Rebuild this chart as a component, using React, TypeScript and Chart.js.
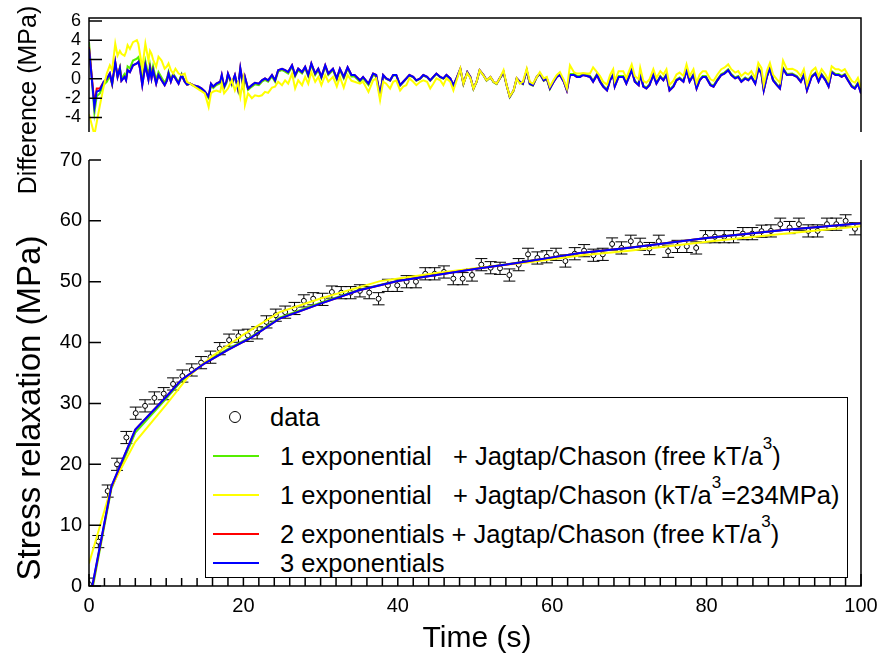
import React, { useEffect, useRef } from 'react';
import { Chart, registerables } from 'chart.js';

Chart.register(...registerables);

const FONT = "'Liberation Sans', Arial, Helvetica, sans-serif";

// ---------- tick labels ----------
const diffTicks = [-4, -2, 0, 2, 4, 6];
const stressTicks = [0, 10, 20, 30, 40, 50, 60, 70];
const timeTicks = [0, 20, 40, 60, 80, 100];

// ---------- difference panel (MPa) ----------
const diffTime = [
  0, 0.7, 1.0, 1.4, 1.9, 2.3, 2.7, 3.0, 3.4, 3.7, 4.0, 4.2, 4.6, 4.8, 5.0, 5.3, 5.7, 6.2, 6.4, 6.6,
  6.9, 7.3, 7.7, 7.9, 8.1, 8.3, 8.7, 9.0, 9.4, 9.8, 10.1, 10.3, 10.6, 10.9, 11.2, 11.6, 12.0, 12.4, 12.7, 13.1,
  13.5, 14.2, 14.6, 15.0, 15.5, 15.8, 16.1, 16.5, 17.0, 17.2, 17.5, 17.8, 18.0, 18.5, 18.9, 19.3, 19.6, 20.0, 20.2, 20.6,
  21.1, 21.5, 22.0, 22.4, 22.8, 23.2, 23.7, 24.1, 24.5, 25.0, 25.4, 25.8, 26.3, 26.7, 27.1, 27.6, 28.0, 28.4, 28.8, 29.3,
  29.7, 30.1, 30.6, 31.0, 31.6, 32.1, 32.5, 33.0, 33.5, 34.0, 34.4, 35.1, 35.5, 36.2, 36.8, 37.2, 37.7, 38.1, 38.5, 39.0,
  39.4, 39.8, 40.3, 40.7, 41.1, 41.5, 42.0, 42.4, 42.9, 43.3, 43.8, 44.2, 44.6, 45.0, 45.5, 45.9, 46.3, 46.8, 47.2, 47.6,
  48.1, 48.5, 49.0, 49.4, 49.8, 50.2, 50.6, 51.1, 51.5, 52.0, 52.4, 52.8, 53.2, 53.7, 54.1, 54.5, 55.0, 55.4, 55.8, 56.2,
  56.7, 57.1, 57.5, 58.0, 58.4, 58.9, 59.3, 59.7, 60.2, 60.6, 61.0, 61.5, 61.9, 62.3, 62.8, 63.2, 63.6, 64.0, 64.5, 64.9,
  65.3, 65.8, 66.2, 66.6, 67.1, 67.5, 67.9, 68.1, 68.6, 69.2, 69.6, 70.3, 70.7, 71.2, 71.4, 71.8, 72.2, 72.6, 73.1, 73.5,
  74.0, 74.4, 74.8, 75.2, 75.7, 76.1, 76.5, 77.0, 77.4, 77.8, 78.3, 78.7, 79.1, 79.5, 79.9, 80.5, 80.9, 81.4, 81.9, 82.3,
  82.8, 83.2, 83.7, 84.1, 84.5, 85.0, 85.4, 85.8, 86.3, 86.7, 87.1, 87.4, 87.8, 88.2, 88.6, 89.1, 89.5, 89.9, 90.4, 91.1,
  91.7, 92.2, 92.6, 93.0, 93.6, 94.1, 94.5, 94.9, 95.4, 95.8, 96.2, 96.7, 97.1, 97.5, 97.9, 98.3, 98.8, 99.2, 99.6, 100,
];

const diffBlue = [
  3.1, -2.9, -1.3, -1.2, -0.3, 0, 0.55, -0.5, 1.75, 0.2, 1.1, -0.2, 0.2, -0.15, 0.9, 0.7, 1.4, 1.6, 1.75, 1.1,
  -0.65, 1.4, -0.1, 1.05, 0.05, 0.9, -0.5, 0.4, -0.15, -0.65, -0.15, 0.55, -0.3, 0.4, 0.05, -0.5, 0.4, -0.3, -0.6, -0.5,
  -0.65, -0.8, -1.0, -1.3, -1.85, -0.5, -0.8, -0.5, -0.3, 0.4, -0.8, -0.3, 0.55, -0.5, 0.4, -1.0, 1.1, -0.8, 0.2, -1.0,
  -0.65, -0.4, -0.5, -0.15, 0.05, -0.15, 0.4, -0.15, 0.9, 1.05, 0.9, 0.7, 1.4, 0.4, 1.05, 0.7, 1.25, 0.4, 1.6, 0.55,
  1.05, 0.2, 1.4, 0.55, 1.05, 0.05, 1.05, 0.2, 1.2, 0.4, 0.4, -0.15, 0.2, -0.5, 0.55, 0.4, -1.7, 0.4, 0.05, -0.15,
  0.4, 0.4, -0.65, -0.3, 0.05, 0.4, 0.2, -0.15, 0.05, 0.4, 0.2, -0.15, 0.2, 0.55, 0.2, 0.05, 0.4, 0.05, -0.65, 0.05,
  1.05, -0.5, 0.7, 0.2, -1.0, -0.3, 0.9, 0.4, -0.15, 0.2, -0.3, -0.5, 0.05, 0.7, -0.65, -1.85, -1.2, 0.05, -0.3, -0.5,
  0.9, -0.5, -0.65, 0.2, 0.55, -0.15, 0.05, -1.0, -0.3, 0.2, 0.4, -0.3, -1.2, 0.4, 0.4, 0.2, 0.2, 0.4, 0.3, 0.2,
  -0.3, 0.4, -0.3, -0.8, -1.2, -0.15, 0.4, -0.8, 0.2, 0.2, -0.5, 0.9, -0.3, -0.65, 0.55, -0.8, -1.0, -0.65, 0.4, -0.5,
  0.2, -0.15, 0.4, -1.2, -0.8, -0.15, 0.05, -0.3, 0.9, -0.3, 0.4, -1.0, -0.15, 0.2, 0.2, -0.65, -0.8, -0.15, 0.4, 0.55,
  0.9, 0.4, 0.05, 0.2, -0.3, 0.05, -0.15, 0.2, -0.5, 1.05, 0.55, -1.2, 0.2, 1.05, -0.15, -0.65, -1.0, 1.05, 0.4, 0.45,
  0.2, -0.3, 0.4, -1.2, 0.2, 0.55, -0.3, 0.4, -0.15, -0.8, 0.7, 0.4, 0.4, 0.2, 0.4, -0.15, -0.8, -1.0, -0.5, -1.5,
];

const diffRed = [
  3.3, -2.6, -1.0, -1.0, -0.3, 0, 0.55, -0.5, 1.75, 0.2, 1.1, -0.2, 0.2, -0.15, 0.9, 0.7, 1.4, 1.6, 1.75, 1.1,
  -0.65, 1.4, -0.1, 1.05, 0.05, 0.9, -0.5, 0.4, -0.15, -0.65, -0.15, 0.55, -0.3, 0.4, 0.05, -0.5, 0.4, -0.3, -0.6, -0.5,
  -0.65, -0.8, -1.0, -1.3, -1.85, -0.5, -0.8, -0.5, -0.3, 0.4, -0.8, -0.3, 0.55, -0.5, 0.4, -1.0, 1.1, -0.8, 0.2, -1.0,
  -0.65, -0.4, -0.5, -0.15, 0.05, -0.15, 0.4, -0.15, 0.9, 1.05, 0.9, 0.7, 1.4, 0.4, 1.05, 0.7, 1.25, 0.4, 1.6, 0.55,
  1.05, 0.2, 1.4, 0.55, 1.05, 0.05, 1.05, 0.2, 1.2, 0.4, 0.4, -0.15, 0.2, -0.5, 0.55, 0.4, -1.7, 0.4, 0.05, -0.15,
  0.4, 0.4, -0.65, -0.3, 0.05, 0.4, 0.2, -0.15, 0.05, 0.4, 0.2, -0.15, 0.2, 0.55, 0.2, 0.05, 0.4, 0.05, -0.65, 0.05,
  1.05, -0.5, 0.7, 0.2, -1.0, -0.3, 0.9, 0.4, -0.15, 0.2, -0.3, -0.5, 0.05, 0.7, -0.65, -1.85, -1.2, 0.05, -0.3, -0.5,
  0.9, -0.5, -0.65, 0.2, 0.55, -0.15, 0.05, -1.0, -0.3, 0.2, 0.4, -0.3, -1.2, 0.4, 0.4, 0.2, 0.2, 0.4, 0.3, 0.2,
  -0.3, 0.4, -0.3, -0.8, -1.2, -0.15, 0.4, -0.8, 0.2, 0.2, -0.5, 0.9, -0.3, -0.65, 0.55, -0.8, -1.0, -0.65, 0.4, -0.5,
  0.2, -0.15, 0.4, -1.2, -0.8, -0.15, 0.05, -0.3, 0.9, -0.3, 0.4, -1.0, -0.15, 0.2, 0.2, -0.65, -0.8, -0.15, 0.4, 0.55,
  0.9, 0.4, 0.05, 0.2, -0.3, 0.05, -0.15, 0.2, -0.5, 1.05, 0.55, -1.2, 0.2, 1.05, -0.15, -0.65, -1.0, 1.05, 0.4, 0.45,
  0.2, -0.3, 0.4, -1.2, 0.2, 0.55, -0.3, 0.4, -0.15, -0.8, 0.7, 0.4, 0.4, 0.2, 0.4, -0.15, -0.8, -1.0, -0.5, -1.5,
];

const diffGreen = [
  3.8, -3.5, -1.8, -1.5, -0.6, -0.3, 0.3, -0.6, 1.6, 0.3, 1.2, 0.0, 0.5, 0.2, 1.3, 1.1, 1.9, 2.1, 2.25, 1.6,
  -0.2, 1.85, 0.35, 1.45, 0.45, 1.3, -0.15, 0.7, 0.15, -0.4, 0.1, 0.75, -0.1, 0.55, 0.2, -0.35, 0.5, -0.25, -0.6, -0.5,
  -0.7, -0.95, -1.15, -1.45, -2.0, -0.65, -0.95, -0.65, -0.45, 0.25, -0.95, -0.45, 0.4, -0.65, 0.25, -1.15, 0.95, -0.95, 0.05, -1.15,
  -0.8, -0.55, -0.65, -0.3, -0.1, -0.3, 0.25, -0.3, 0.75, 0.9, 0.75, 0.55, 1.25, 0.25, 0.9, 0.55, 1.1, 0.25, 1.45, 0.4,
  0.9, 0.05, 1.25, 0.4, 0.9, -0.1, 0.9, 0.05, 1.05, 0.25, 0.25, -0.3, 0.05, -0.65, 0.4, 0.25, -1.85, 0.35, 0.0, -0.2,
  0.35, 0.35, -0.7, -0.35, 0.0, 0.35, 0.15, -0.2, 0.0, 0.35, 0.15, -0.2, 0.15, 0.5, 0.15, 0.0, 0.35, 0.0, -0.7, 0.0,
  1.0, -0.55, 0.65, 0.15, -1.05, -0.35, 0.85, 0.35, -0.2, 0.15, -0.35, -0.55, 0.0, 0.65, -0.7, -1.9, -1.25, 0.0, -0.35, -0.55,
  0.85, -0.55, -0.7, 0.15, 0.5, -0.2, 0.0, -1.05, -0.2, 0.3, 0.5, -0.2, -1.1, 0.5, 0.5, 0.3, 0.3, 0.5, 0.4, 0.3,
  -0.2, 0.5, -0.2, -0.7, -1.1, -0.05, 0.5, -0.7, 0.3, 0.3, -0.4, 1.0, -0.2, -0.55, 0.65, -0.7, -0.9, -0.55, 0.5, -0.4,
  0.3, -0.05, 0.5, -1.1, -0.7, -0.05, 0.15, -0.2, 1.0, -0.2, 0.5, -0.9, -0.05, 0.3, 0.3, -0.55, -0.7, -0.05, 0.5, 0.65,
  1.0, 0.5, 0.15, 0.3, -0.2, 0.15, -0.05, 0.3, -0.4, 1.15, 0.65, -1.1, 0.3, 1.15, -0.05, -0.55, -0.9, 1.15, 0.5, 0.55,
  0.3, -0.2, 0.5, -1.1, 0.3, 0.65, -0.2, 0.5, -0.05, -0.7, 0.8, 0.5, 0.5, 0.3, 0.5, -0.05, -0.7, -0.9, -0.4, -1.4,
];

const diffYellow = [
  -3.65, -5.8, -4.5, -2.8, -0.8, 0.55, 1.4, 0.9, 3.65, 2.4, 2.9, 2.6, 2.4, 2.8, 3.5, 3.1, 3.8, 4.0, 3.6, 2.6,
  1.1, 3.65, 1.9, 2.9, 2.6, 2.0, 1.25, 2.3, 1.9, 1.05, 1.3, 1.6, 0.9, 0.55, 1.05, 0.55, 0.4, 0.55, -0.3, -0.5,
  -0.7, -1.1, -1.3, -1.5, -2.9, -1.5, -1.3, -1.2, -1.35, -0.5, -1.5, -1.2, -1.0, -0.15, -1.2, -0.4, -1.85, 0.0, -2.7, -1.5,
  -2.0, -1.7, -1.8, -1.7, -1.35, -1.45, -0.9, -0.8, -0.3, -0.65, -0.15, -0.5, 0.55, -1.0, -0.15, -0.65, 0.2, -0.5, 0.7, -0.3,
  0.2, -0.65, 0.4, -0.3, 0.2, -0.8, 0.2, -0.9, 0.4, -0.2, -0.3, -0.5, -0.3, -1.35, -0.15, 0.05, -2.2, -0.3, -0.5, -1.0,
  -0.3, -0.15, -1.2, -0.8, -0.65, 0.05, -0.3, -0.65, -0.3, -0.15, -0.3, -1.0, -0.5, 0.05, -0.15, -0.65, 0.05, -0.3, -1.2, -0.2,
  1.05, -0.5, 0.6, 0.1, -1.0, -0.3, 0.9, 0.35, -0.15, 0.2, -0.3, -0.5, 0.05, 0.9, -0.65, -1.8, -1.2, 0.05, -0.5, -0.3,
  1.05, -0.3, -0.5, 0.2, 0.7, 0.05, 0.2, -0.8, -0.1, 0.4, 0.7, -0.1, -1.0, 1.4, 0.7, 0.55, 0.55, 0.6, 0.55, 0.55,
  1.2, 0.7, 0.3, -0.3, -0.6, 0.4, 1.0, -0.2, 0.8, 0.8, 0.1, 1.5, 0.3, -0.05, 1.15, -0.2, -0.4, -0.05, 1.0, 0.1,
  0.8, 0.45, 1.0, -0.6, -0.2, 0.45, 0.65, 0.3, 1.5, 0.3, 1.0, -0.4, 0.45, 0.8, 0.8, -0.05, -0.2, 0.45, 1.0, 1.15,
  1.5, 1.0, 0.65, 0.8, 0.3, 0.65, 0.45, 0.8, 0.1, 1.65, 1.15, -0.6, 0.8, 1.65, 0.45, -0.05, -0.4, 1.9, 1.0, 1.05,
  0.8, 0.3, 1.0, -0.6, 0.8, 1.15, 0.3, 1.0, 0.45, -0.2, 1.3, 1.0, 1.0, 0.8, 1.0, 0.45, -0.2, -0.4, 0.1, -0.9,
];

// ---------- stress relaxation data (MPa) ----------
const stressTime = [
  0, 1.21, 2.42, 3.63, 4.84, 6.05, 7.26, 8.47, 9.68, 10.89,
  12.1, 13.31, 14.52, 15.73, 16.94, 18.15, 19.36, 20.57, 21.78, 22.99,
  24.2, 25.41, 26.62, 27.83, 29.04, 30.25, 31.46, 32.67, 33.88, 35.09,
  36.3, 37.51, 38.72, 39.93, 41.14, 42.35, 43.56, 44.77, 45.98, 47.19,
  48.4, 49.61, 50.82, 52.03, 53.24, 54.45, 55.66, 56.87, 58.08, 59.29,
  60.5, 61.71, 62.92, 64.13, 65.34, 66.55, 67.76, 68.97, 70.18, 71.39,
  72.6, 73.81, 75.02, 76.23, 77.44, 78.65, 79.86, 81.07, 82.28, 83.49,
  84.7, 85.91, 87.12, 88.33, 89.54, 90.75, 91.96, 93.17, 94.38, 95.59,
  96.8, 98.01, 99.22,
];
const stressVal = [
  0.3, 7.3, 15.6, 20.0, 24.4, 28.4, 29.6, 30.9, 31.6, 33.2,
  34.5, 35.5, 36.7, 37.6, 39.0, 40.4, 41.05, 41.2, 41.6, 43.4,
  44.5, 45.0, 45.6, 46.85, 47.2, 47.1, 48.3, 48.2, 48.2, 48.5,
  48.2, 47.2, 49.4, 49.4, 50.0, 50.0, 51.3, 51.3, 51.6, 50.5,
  50.5, 51.1, 52.8, 52.3, 52.2, 51.1, 52.8, 54.5, 53.9, 54.1,
  54.5, 53.4, 54.6, 55.1, 54.35, 54.5, 56.2, 55.55, 56.65, 56.15,
  55.45, 56.65, 55.0, 55.8, 55.8, 55.55, 57.4, 57.4, 57.4, 57.4,
  57.9, 57.9, 58.3, 58.35, 59.45, 58.9, 59.45, 58.35, 58.35, 59.45,
  59.45, 60.0, 58.7,
];
const stressErr = 1.0;

// ---------- fit curves (MPa) ----------
const fitTime = [0, 2.9, 6, 10, 12, 15, 18, 21, 24.7, 30, 35, 40, 45, 50, 55, 60, 63.6, 70, 80, 90, 100];
const fitGreen = [-3.5, 16.0, 25.2, 30.8, 33.7, 36.7, 38.95, 40.95, 44.1, 46.55, 48.7, 50.15, 51.15, 52.15, 53.05, 54.0, 54.7, 55.6, 57.2, 58.5, 59.6];
const fitRed = [-3.0, 16.3, 25.7, 31.1, 33.9, 36.6, 38.8, 40.8, 43.95, 46.4, 48.6, 50.1, 51.1, 52.1, 53.0, 54.0, 54.7, 55.6, 57.2, 58.5, 59.6];
const fitBlue = [-2.8, 16.4, 25.7, 31.1, 33.9, 36.6, 38.8, 40.8, 43.95, 46.4, 48.6, 50.1, 51.1, 52.1, 53.0, 54.0, 54.7, 55.6, 57.2, 58.5, 59.6];
const fitYellowTime = [0, 2.9, 6, 10, 13, 16, 20, 24.7, 30, 37.7, 45, 50.6, 57, 63.6, 70, 80.9, 90, 100];
const fitYellow = [3.7, 16.3, 23.7, 29.8, 34.6, 37.8, 41.3, 45.0, 47.25, 50.1, 51.45, 52.3, 53.2, 54.3, 55.1, 56.7, 57.9, 59.1];

const GREEN = '#55ee00';
const YELLOW = '#ffff00';
const RED = '#ff0000';
const BLUE = '#0000ff';

const toXY = (xs: number[], ys: number[]) => xs.map((x, i) => ({ x, y: ys[i] }));

const topFramePlugin = {
  id: 'topFrame',
  afterDatasetsDraw(chart: any) {
    const { ctx, chartArea: a } = chart;
    const ys = chart.scales.y;
    ctx.save();
    ctx.strokeStyle = '#000';
    ctx.lineWidth = 1.5;
    ctx.beginPath();
    ctx.moveTo(a.left, a.bottom);
    ctx.lineTo(a.left, a.top);
    ctx.lineTo(a.right, a.top);
    ctx.lineTo(a.right, a.bottom);
    ctx.stroke();
    ctx.beginPath();
    diffTicks.forEach((v) => {
      const p = ys.getPixelForValue(v);
      ctx.moveTo(a.left, p);
      ctx.lineTo(a.left + 13, p);
    });
    ctx.stroke();
    ctx.restore();
  },
};

const bottomPlugin = {
  id: 'bottomFrame',
  beforeDatasetsDraw(chart: any) {
    const { ctx, chartArea: a } = chart;
    const xs = chart.scales.x;
    const ys = chart.scales.y;
    ctx.save();
    ctx.beginPath();
    ctx.rect(a.left, a.top, a.right - a.left, a.bottom - a.top);
    ctx.clip();
    ctx.strokeStyle = '#000';
    ctx.lineWidth = 1;
    ctx.beginPath();
    stressTime.forEach((t, i) => {
      const px = xs.getPixelForValue(t);
      const top = ys.getPixelForValue(stressVal[i] + stressErr);
      const bot = ys.getPixelForValue(stressVal[i] - stressErr);
      ctx.moveTo(px, top);
      ctx.lineTo(px, bot);
      ctx.moveTo(px - 6, top);
      ctx.lineTo(px + 6, top);
      ctx.moveTo(px - 6, bot);
      ctx.lineTo(px + 6, bot);
    });
    ctx.stroke();
    ctx.restore();
  },
  afterDatasetsDraw(chart: any) {
    const { ctx, chartArea: a } = chart;
    const xs = chart.scales.x;
    const ys = chart.scales.y;
    ctx.save();
    ctx.strokeStyle = '#000';
    ctx.lineWidth = 1.5;
    ctx.beginPath();
    ctx.moveTo(a.left, a.top);
    ctx.lineTo(a.left, a.bottom);
    ctx.lineTo(a.right, a.bottom);
    ctx.lineTo(a.right, a.top);
    ctx.stroke();
    ctx.beginPath();
    stressTicks.forEach((v) => {
      const p = ys.getPixelForValue(v);
      ctx.moveTo(a.left, p);
      ctx.lineTo(a.left + 12, p);
    });
    for (let v = 0; v <= 100; v += 2) {
      const p = xs.getPixelForValue(v);
      const len = timeTicks.includes(v) ? 12 : 8;
      ctx.moveTo(p, a.bottom);
      ctx.lineTo(p, a.bottom - len);
    }
    ctx.stroke();
    ctx.restore();
  },
};

const Sup = () => (
  <span style={{ fontSize: 17, position: 'relative', top: -16 }}>3</span>
);

export default function App() {
  const topRef = useRef<HTMLCanvasElement>(null);
  const botRef = useRef<HTMLCanvasElement>(null);

  useEffect(() => {
    const tickFont = (size: number) => ({ family: FONT, size });
    const c1 = new Chart(topRef.current as HTMLCanvasElement, {
      type: 'line',
      data: {
        datasets: [
          { label: 'green', data: toXY(diffTime, diffGreen), borderColor: GREEN, order: 4 },
          { label: 'yellow', data: toXY(diffTime, diffYellow), borderColor: YELLOW, order: 1 },
          { label: 'red', data: toXY(diffTime, diffRed), borderColor: RED, order: 3 },
          { label: 'blue', data: toXY(diffTime, diffBlue), borderColor: BLUE, order: 2 },
        ],
      },
      options: {
        animation: false,
        responsive: false,
        events: [],
        layout: { padding: { top: 18, bottom: 8, left: 0, right: 18 } },
        elements: { point: { radius: 0 }, line: { borderWidth: 2, tension: 0 } },
        plugins: { legend: { display: false }, tooltip: { enabled: false } },
        scales: {
          x: { type: 'linear', min: 0, max: 100, display: false },
          y: {
            type: 'linear',
            min: -5.5,
            max: 6.3,
            afterFit: (s: any) => { s.width = 89; s.paddingTop = 0; s.paddingBottom = 0; },
            afterBuildTicks: (s: any) => { s.ticks = diffTicks.map((v) => ({ value: v })); },
            grid: { display: false, drawTicks: false },
            border: { display: false },
            ticks: { padding: 8, color: '#000', font: tickFont(18), autoSkip: false },
          },
        },
      } as any,
      plugins: [topFramePlugin],
    });

    const c2 = new Chart(botRef.current as HTMLCanvasElement, {
      type: 'line',
      data: {
        datasets: [
          {
            label: 'data',
            data: toXY(stressTime, stressVal),
            showLine: false,
            pointRadius: 2.5,
            pointBackgroundColor: '#fff',
            pointBorderColor: '#000',
            pointBorderWidth: 1,
            order: 10,
          },
          { label: 'green', data: toXY(fitTime, fitGreen), borderColor: GREEN, pointRadius: 0, order: 4 },
          { label: 'yellow', data: toXY(fitYellowTime, fitYellow), borderColor: YELLOW, pointRadius: 0, order: 3 },
          { label: 'red', data: toXY(fitTime, fitRed), borderColor: RED, pointRadius: 0, order: 2 },
          { label: 'blue', data: toXY(fitTime, fitBlue), borderColor: BLUE, pointRadius: 0, order: 1 },
        ],
      },
      options: {
        animation: false,
        responsive: false,
        events: [],
        layout: { padding: { top: 20, bottom: 0, left: 0, right: 18 } },
        elements: { line: { borderWidth: 2, tension: 0 } },
        plugins: { legend: { display: false }, tooltip: { enabled: false } },
        scales: {
          x: {
            type: 'linear',
            min: 0,
            max: 100,
            afterFit: (s: any) => { s.height = 77; s.paddingLeft = 0; s.paddingRight = 0; },
            afterBuildTicks: (s: any) => { s.ticks = timeTicks.map((v) => ({ value: v })); },
            grid: { display: false, drawTicks: false },
            border: { display: false },
            ticks: { padding: 8, color: '#000', font: tickFont(20), maxRotation: 0, autoSkip: false },
          },
          y: {
            type: 'linear',
            min: 0,
            max: 70,
            afterFit: (s: any) => { s.width = 89; s.paddingTop = 0; s.paddingBottom = 0; },
            afterBuildTicks: (s: any) => { s.ticks = stressTicks.map((v) => ({ value: v })); },
            grid: { display: false, drawTicks: false },
            border: { display: false },
            ticks: { padding: 7, color: '#000', font: tickFont(20), autoSkip: false },
          },
        },
      } as any,
      plugins: [bottomPlugin],
    });

    return () => {
      c1.destroy();
      c2.destroy();
    };
  }, []);

  const rowText: React.CSSProperties = {
    position: 'absolute',
    height: 30,
    lineHeight: '30px',
    whiteSpace: 'pre',
  };
  const sample = (top: number, color: string): React.CSSProperties => ({
    position: 'absolute',
    left: 7,
    top: top - 1,
    width: 46,
    height: 2,
    background: color,
  });

  return (
    <div
      style={{
        position: 'absolute',
        left: 0,
        top: 0,
        width: 879,
        height: 663,
        background: '#fff',
        overflow: 'hidden',
        fontFamily: FONT,
        color: '#000',
      }}
    >
      <canvas ref={topRef} width={879} height={140} style={{ position: 'absolute', left: 0, top: 0 }} />
      <canvas ref={botRef} width={879} height={523} style={{ position: 'absolute', left: 0, top: 140 }} />

      <div
        style={{
          position: 'absolute',
          left: 27,
          top: 100,
          transform: 'translate(-50%, -50%) rotate(-90deg)',
          whiteSpace: 'nowrap',
          fontSize: 25,
        }}
      >
        Difference (MPa)
      </div>
      <div
        style={{
          position: 'absolute',
          left: 29,
          top: 408,
          transform: 'translate(-50%, -50%) rotate(-90deg)',
          whiteSpace: 'nowrap',
          fontSize: 33,
        }}
      >
        Stress relaxation (MPa)
      </div>
      <div
        style={{
          position: 'absolute',
          left: 477,
          top: 637,
          transform: 'translate(-50%, -50%)',
          whiteSpace: 'nowrap',
          fontSize: 30,
        }}
      >
        Time (s)
      </div>

      <div
        style={{
          position: 'absolute',
          left: 205,
          top: 397,
          width: 643,
          height: 181,
          boxSizing: 'border-box',
          border: '1px solid #000',
          background: '#fff',
          fontSize: 25.5,
        }}
      >
        <div
          style={{
            position: 'absolute',
            left: 23,
            top: 13,
            width: 12,
            height: 12,
            boxSizing: 'border-box',
            border: '1.5px solid #000',
            borderRadius: '50%',
          }}
        />
        <div style={{ ...rowText, left: 64, top: 19 - 15 }}>data</div>

        <div style={sample(58, GREEN)} />
        <div style={{ ...rowText, left: 74, top: 58 - 15 }}>
          {'1 exponential   + Jagtap/Chason (free kT/a'}
          <Sup />
          {')'}
        </div>

        <div style={sample(97, YELLOW)} />
        <div style={{ ...rowText, left: 74, top: 97 - 15 }}>
          {'1 exponential   + Jagtap/Chason (kT/a'}
          <Sup />
          {'=234MPa)'}
        </div>

        <div style={sample(136, RED)} />
        <div style={{ ...rowText, left: 74, top: 136 - 15 }}>
          {'2 exponentials + Jagtap/Chason (free kT/a'}
          <Sup />
          {')'}
        </div>

        <div style={sample(165, BLUE)} />
        <div style={{ ...rowText, left: 74, top: 165 - 15 }}>3 exponentials</div>
      </div>
    </div>
  );
}
